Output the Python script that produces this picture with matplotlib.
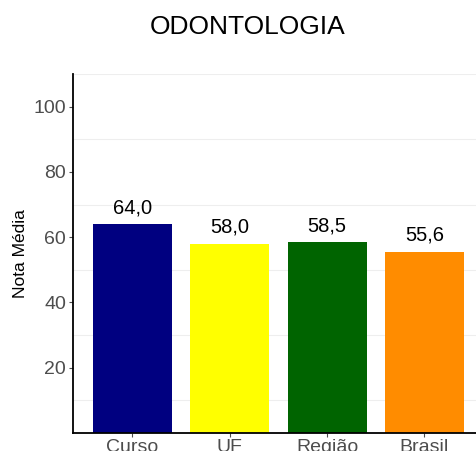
import matplotlib.pyplot as plt

plt.rcParams['font.family'] = ['Liberation Sans', 'DejaVu Sans']

categories = ["Curso", "UF", "Região", "Brasil"]
notas = [64.0, 58.0, 58.5, 55.6]
cores = ["#000080", "#ffff00", "#006400", "#ff8c00"]

fig = plt.figure(figsize=(4.77, 4.51), dpi=100)
ax = fig.add_axes([0.153, 0.04, 0.845, 0.796])

x = list(range(len(categories)))
ax.bar(x, notas, width=0.81, color=cores, zorder=2)

# rótulos com vírgula decimal
for xi, v in zip(x, notas):
    ax.annotate(f"{v:.1f}".replace(".", ","), (xi, v), xytext=(0, 5),
                textcoords="offset points", ha="center", va="bottom",
                fontsize=14.5, color="black")

ax.set_xlim(-0.61, 3.53)
ax.set_ylim(0, 110)
ax.set_xticks(x)
ax.set_xticklabels(categories, fontsize=14, color="#4d4d4d")
ax.set_yticks([20, 40, 60, 80, 100])
ax.tick_params(axis="y", labelsize=14, labelcolor="#4d4d4d", color="#4d4d4d", length=3, pad=2)
ax.tick_params(axis="x", color="#4d4d4d", length=3, pad=1)
ax.set_yticks([10, 30, 50, 70, 90, 110], minor=True)
ax.tick_params(axis="y", which="minor", length=0)
ax.grid(axis="y", which="minor", color="#eeeeee", linewidth=0.8, zorder=0)

for s in ["top", "right"]:
    ax.spines[s].set_visible(False)
for s in ["left", "bottom"]:
    ax.spines[s].set_linewidth(1.3)
    ax.spines[s].set_color("black")

ax.set_ylabel("Nota Média", fontsize=12.5, labelpad=4)
fig.text(0.52, 0.94, "ODONTOLOGIA", ha="center", va="center", fontsize=19)

fig.savefig("out.png", dpi=100)
